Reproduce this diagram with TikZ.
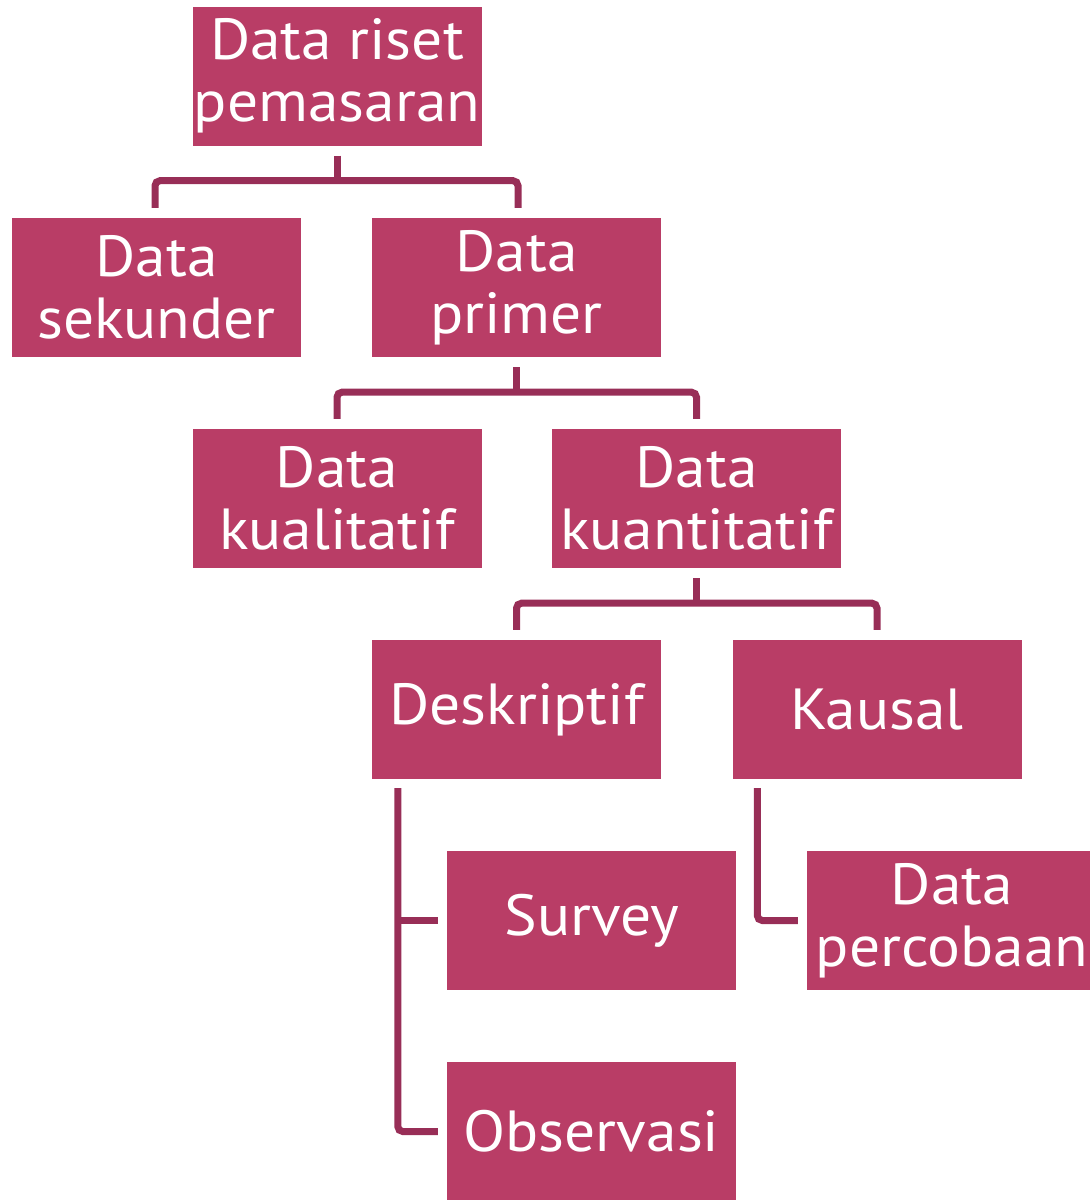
\documentclass[tikz,border=0pt]{standalone}
\usepackage{fontspec}
\setmainfont[FakeStretch=1.06]{PT Sans}
\usetikzlibrary{calc}
\definecolor{boxc}{RGB}{185,61,102}
\definecolor{linec}{RGB}{152,46,87}
\begin{document}
\begin{tikzpicture}[x=1pt,y=-1pt,
  box/.style={fill=boxc,text=white,minimum width=289pt,minimum height=139pt,inner sep=0pt,
    font=\fontsize{58}{62}\selectfont,align=center},
  conn/.style={draw=linec,line width=7pt,rounded corners=5pt}]
\useasboundingbox (0,0) rectangle (1090,1200);
\clip (0,0) rectangle (1090,1200);
\node[box] (top)  at (337,76)     {Data riset\\pemasaran};
\node[box] (sek)  at (156.5,287.5) {Data\\sekunder};
\node[box] (pri)  at (516.5,287.5) {Data\\primer};
\node[box] (kual) at (337,498.5)   {Data\\kualitatif};
\node[box] (kuan) at (696.5,498.5) {Data\\kuantitatif};
\node[box] (desk) at (516.5,709.5) {Deskriptif};
\node[box] (kaus) at (877,709.5)   {Kausal};
\node[box] (surv) at (591.5,920.5) {Survey};
\node[box,minimum width=290pt] (perc) at (952,920.5) {Data\\percobaan};
\node[box] (obs)  at (591.5,1131.5) {Observasi};
% tree connectors
\coordinate (j1) at ($(top.south)+(0,35)$);
\draw[conn] ($(top.south)+(0,10)$) -- (j1);
\draw[conn] ($(sek.north)+(-1.5,-10)$) |- (j1) -| ($(pri.north)+(1.5,-10)$);
\coordinate (j2) at ($(pri.south)+(0,35)$);
\draw[conn] ($(pri.south)+(0,10)$) -- (j2);
\draw[conn] ($(kual.north)+(0,-10)$) |- (j2) -| ($(kuan.north)+(0,-10)$);
\coordinate (j3) at ($(kuan.south)+(0,35)$);
\draw[conn] ($(kuan.south)+(0,10)$) -- (j3);
\draw[conn] ($(desk.north)+(0,-10)$) |- (j3) -| ($(kaus.north)+(0,-10)$);
% side connectors
\coordinate (dt) at ($(desk.south west)+(26,9)$);
\draw[conn] (dt) |- ($(obs.west)+(-9,0)$);
\draw[conn] (dt |- surv.west) -- ($(surv.west)+(-9,0)$);
\draw[conn] ($(kaus.south west)+(25,9)$) |- ($(perc.west)+(-9,0)$);
\end{tikzpicture}
\end{document}
